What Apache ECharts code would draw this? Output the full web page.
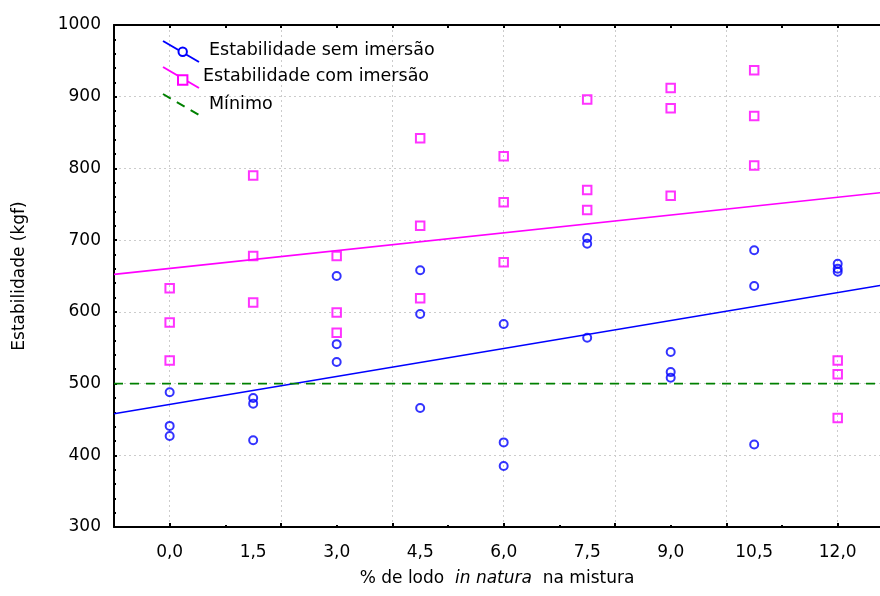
<!DOCTYPE html>
<html><head><meta charset="utf-8">
<script src="https://cdn.jsdelivr.net/npm/echarts@6/dist/echarts.min.js"></script>
<style>html,body{margin:0;padding:0;background:#fff}#c{width:880px;height:596px}</style>
</head><body><div id="c"></div>
<script>
// ---- data ----
const xPositions = [0, 1.5, 3, 4.5, 6, 7.5, 9, 10.5, 12];
const semImersao = [[488,441,427],[480,472,421],[650,555,530],[658,597,466],[583,418,385],[703,695,564],[544,516,508],[686,636,415],[667,660,656]];
const comImersao = [[633,585,532],[790,678,613],[678,599,571],[842,720,619],[817,753,669],[896,770,742],[912,884,762],[937,873,804],[532,513,452]];
const minimo = 500;
const xLabelValues = [0, 1.5, 3, 4.5, 6, 7.5, 9, 10.5, 12];
const xMajorTicks = [0, 2, 4, 6, 8, 10, 12];
const xMinorTicks = [1, 3, 5, 7, 9, 11];
const xAllTicks = [0,1,2,3,4,5,6,7,8,9,10,11,12];
const xMin = -1, xMax = 12.76;
const yMin = 300, yMax = 1000, yStep = 100;
const seriesNames = ['Estabilidade sem imersão', 'Estabilidade com imersão', 'Mínimo'];

const FONT = 'DejaVu Sans';
function toPoints(groups){ const out=[]; groups.forEach((g,i)=>g.forEach(v=>out.push([xPositions[i], v]))); return out; }
function fit(pts){
  const n=pts.length; let sx=0,sy=0,sxx=0,sxy=0;
  pts.forEach(p=>{sx+=p[0];sy+=p[1];sxx+=p[0]*p[0];sxy+=p[0]*p[1];});
  const b=(n*sxy-sx*sy)/(n*sxx-sx*sx); const a=(sy-b*sx)/n;
  return [[xMin, a+b*xMin],[xMax, a+b*xMax]];
}
const ptsSem = toPoints(semImersao), ptsCom = toPoints(comImersao);

const chart = echarts.init(document.getElementById('c'), null, {renderer:'canvas'});
const axisLineStyle = {color:'#000', width:2};
const gridStyle = {color:'#cccccc', type:[2,3], width:1};
const baseX = {type:'value', min:xMin, max:xMax, gridIndex:0};
chart.setOption({
  animation:false,
  backgroundColor:'#fff',
  grid:{left:114, right:0, top:25, bottom:69},
  xAxis:[
    Object.assign({}, baseX, {
      position:'bottom',
      axisLine:{show:true, onZero:false, lineStyle:axisLineStyle},
      axisTick:{show:true, inside:true, length:4, customValues:xMajorTicks, lineStyle:{color:'#000', width:2}},
      axisLabel:{show:true, customValues:xLabelValues, margin:17, color:'#000', fontFamily:FONT, fontSize:17,
        formatter:v=>v.toFixed(1).replace('.', ',')},
      splitLine:{show:true, lineStyle:gridStyle},
      name:'% de lodo  {i|in natura}  na mistura', nameLocation:'middle', nameGap:43,
      nameTextStyle:{color:'#000', fontFamily:FONT, fontSize:17, rich:{i:{fontStyle:'italic', fontFamily:FONT, fontSize:17, color:'#000'}}}
    }),
    Object.assign({}, baseX, {
      position:'bottom',
      axisLine:{show:false, onZero:false},
      axisTick:{show:true, inside:true, length:2, customValues:xMinorTicks, lineStyle:{color:'#000', width:2}},
      axisLabel:{show:false}, splitLine:{show:false}
    }),
    Object.assign({}, baseX, {
      position:'top',
      axisLine:{show:true, onZero:false, lineStyle:axisLineStyle},
      axisTick:{show:true, inside:true, length:3, customValues:xAllTicks, lineStyle:{color:'#000', width:2}},
      axisLabel:{show:false}, splitLine:{show:false}
    })
  ],
  yAxis:[{
    type:'value', min:yMin, max:yMax, interval:yStep, position:'left',
    axisLine:{show:true, onZero:false, lineStyle:axisLineStyle},
    axisTick:{show:true, inside:true, length:3, lineStyle:{color:'#000', width:2}},
    minorTick:{show:true, splitNumber:5, length:2, lineStyle:{color:'#000', width:2}},
    axisLabel:{margin:13, color:'#000', fontFamily:FONT, fontSize:17, formatter:v=>String(v)},
    splitLine:{show:true, lineStyle:gridStyle},
    name:'Estabilidade (kgf)', nameLocation:'middle', nameGap:86,
    nameTextStyle:{color:'#000', fontFamily:FONT, fontSize:17}
  }],
  series:[
    {name:seriesNames[0]+' (ajuste)', type:'line', xAxisIndex:0, data:fit(ptsSem), showSymbol:false, symbol:'none',
      lineStyle:{color:'#0000ff', width:1.6}, z:2},
    {name:seriesNames[1]+' (ajuste)', type:'line', xAxisIndex:0, data:fit(ptsCom), showSymbol:false, symbol:'none',
      lineStyle:{color:'#ff00ff', width:1.6}, z:2},
    {name:seriesNames[2], type:'line', xAxisIndex:0, data:[[xMin,minimo],[xMax,minimo]], showSymbol:false, symbol:'none',
      lineStyle:{color:'#008000', width:1.8, type:[9,7]}, z:2},
    {name:seriesNames[0], type:'scatter', xAxisIndex:0, data:ptsSem, symbol:'circle', symbolSize:8,
      itemStyle:{color:'rgba(255,255,255,0)', borderColor:'#0000ff', borderWidth:2}, z:3},
    {name:seriesNames[1], type:'scatter', xAxisIndex:0, data:ptsCom, symbol:'rect', symbolSize:8.5,
      itemStyle:{color:'rgba(255,255,255,0)', borderColor:'#ff00ff', borderWidth:2}, z:3}
  ],
  graphic:[
    {type:'line', shape:{x1:163,y1:41,x2:199,y2:62}, style:{stroke:'#0000ff', lineWidth:2}, z:10},
    {type:'circle', shape:{cx:182.7,cy:51.7,r:4.2}, style:{fill:'#fff', stroke:'#0000ff', lineWidth:2}, z:11},
    {type:'text', left:209, top:41, style:{text:seriesNames[0], fill:'#000', font:'17.5px "DejaVu Sans"'}, z:11},
    {type:'line', shape:{x1:163,y1:67,x2:199,y2:88}, style:{stroke:'#ff00ff', lineWidth:2}, z:10},
    {type:'rect', shape:{x:178,y:75.3,width:9.4,height:9.4}, style:{fill:'#fff', stroke:'#ff00ff', lineWidth:2}, z:11},
    {type:'text', left:203, top:67, style:{text:seriesNames[1], fill:'#000', font:'17.5px "DejaVu Sans"'}, z:11},
    {type:'line', shape:{x1:163,y1:94,x2:199,y2:115}, style:{stroke:'#008000', lineWidth:2, lineDash:[9,7]}, z:10},
    {type:'text', left:209, top:95, style:{text:seriesNames[2], fill:'#000', font:'17.5px "DejaVu Sans"'}, z:11}
  ]
});
</script></body></html>
